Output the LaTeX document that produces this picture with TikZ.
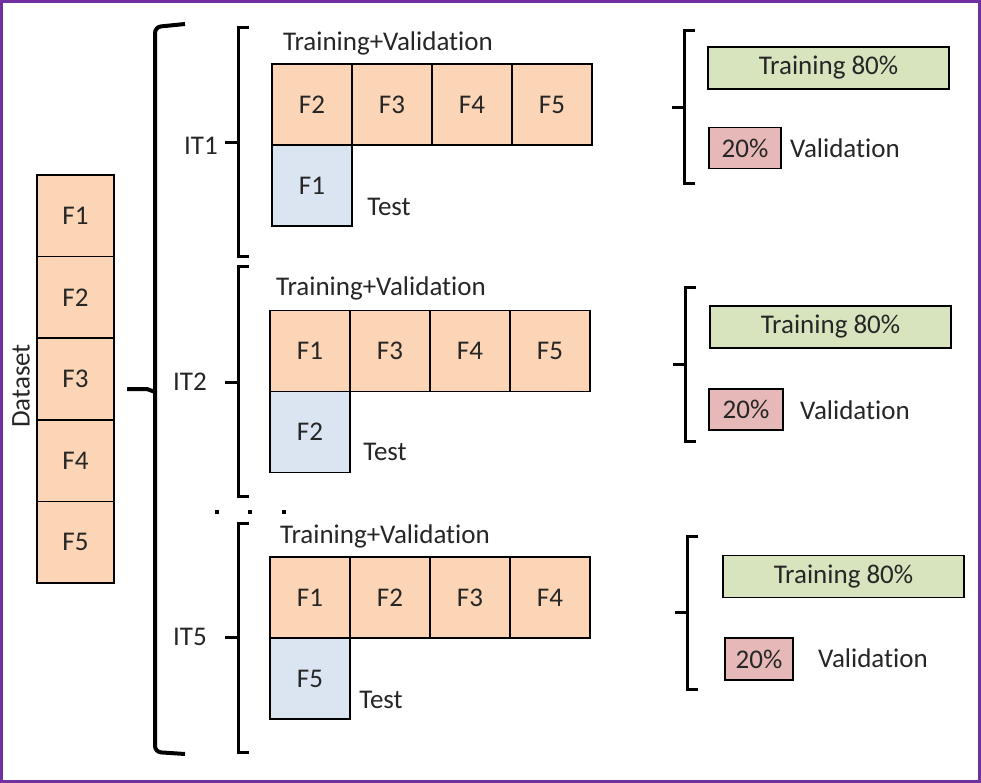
\documentclass[tikz,border=0pt]{standalone}
\usepackage{fontspec}
\setmainfont[Ligatures={NoCommon,NoRequired,NoContextual}, Contextuals=NoAlternate]{Carlito}
\usepackage{xcolor}
\usetikzlibrary{positioning}
\definecolor{foldorange}{RGB}{251,213,181}
\definecolor{foldblue}{RGB}{219,229,241}
\definecolor{trgreen}{RGB}{215,228,189}
\definecolor{valpink}{RGB}{230,185,184}
\definecolor{frame}{RGB}{112,48,160}

\begin{document}
\begin{tikzpicture}[x=1pt, y=-1pt]
	\tikzstyle{every node} = [text = black!85, font = \fontsize{27}{31}\selectfont]
	\tikzstyle{fold} = [draw = black, line width = 1.5pt, fill = foldorange, minimum width = 80pt, minimum height = 81pt, inner sep = 0pt, outer sep = 0pt]
	\tikzstyle{testfold} = [fold, fill = foldblue]
	\tikzstyle{trainbar} = [draw = black, line width = 1.5pt, fill = trgreen, minimum width = 241pt, minimum height = 42pt, inner sep = 0pt]
	\tikzstyle{valbox} = [draw = black, line width = 1.5pt, fill = valpink, minimum height = 41pt, inner sep = 0pt]
	\tikzstyle{brace} = [draw = black, line width = 3pt]
\useasboundingbox (0,0) rectangle (981,783);
\draw[color = frame, line width = 3pt] (1.5,1.5) rectangle (979.5,781.5);
% dataset
\node[fold, minimum width = 77pt, minimum height = 81.6pt] (d1) at (75.5, 215.8) {F1};
\node[fold, minimum width = 77pt, minimum height = 81.6pt] (d2) [below = 0pt of d1] {F2};
\node[fold, minimum width = 77pt, minimum height = 81.6pt] (d3) [below = 0pt of d2] {F3};
\node[fold, minimum width = 77pt, minimum height = 81.6pt] (d4) [below = 0pt of d3] {F4};
\node[fold, minimum width = 77pt, minimum height = 81.6pt] (d5) [below = 0pt of d4] {F5};
\node[rotate = 90] (dataset) at (21, 386) {Dataset};
% big brace
\path[brace, line width = 4pt, rounded corners = 6pt] (185, 24) -- (155, 27) -- (155, 752) -- (185, 754);
\path[brace, line width = 4pt] (127, 389) -- (147, 389) -- (155, 392);
% iterations
\foreach \top/\bot/\tip in {28/257/143, 267/496/382, 523/752/637}
	\path[brace] (249, \top) -- (238, \top) -- (238, \bot) -- (249, \bot) (225, \tip) -- (238, \tip);
\node (it1) at (201, 146) {IT1};
\node (it2) at (190, 382) {IT2};
\node (it5) at (190, 637) {IT5};
\foreach \x in {217, 250, 284}
	\fill[black] (\x-2, 510) rectangle (\x+2, 514);
% IT1
\node[fold] (a1) at (312, 104.5) {F2};
\node[fold] (a2) [right = 0pt of a1] {F3};
\node[fold] (a3) [right = 0pt of a2] {F4};
\node[fold] (a4) [right = 0pt of a3] {F5};
\node[testfold] (at) [below = 0pt of a1] {F1};
\node (atv) at (388, 43) {Training+Validation};
\node (atest) at (389, 207) {Test};
% IT2
\node[fold] (b1) at (310, 351) {F1};
\node[fold] (b2) [right = 0pt of b1] {F3};
\node[fold] (b3) [right = 0pt of b2] {F4};
\node[fold] (b4) [right = 0pt of b3] {F5};
\node[testfold] (bt) [below = 0pt of b1] {F2};
\node (btv) at (381, 288) {Training+Validation};
\node (btest) at (385, 452) {Test};
% IT5
\node[fold] (c1) at (310, 597.5) {F1};
\node[fold] (c2) [right = 0pt of c1] {F2};
\node[fold] (c3) [right = 0pt of c2] {F3};
\node[fold] (c4) [right = 0pt of c3] {F4};
\node[testfold] (ct) [below = 0pt of c1] {F5};
\node (ctv) at (385, 536) {Training+Validation};
\node (ctest) at (381, 700) {Test};
% splits
\foreach \x/\top/\bot/\tip in {684/31/184/108, 685/287/441/364, 687/536/689/612}
	\path[brace] (\x+11, \top) -- (\x, \top) -- (\x, \bot) -- (\x+11, \bot) (\x-12, \tip) -- (\x, \tip);
\node[trainbar] (atr) at (828.5, 68) {Training 80\%};
\node[valbox, minimum width = 72pt] (ava) at (745, 148) {20\%};
\node (aval) at (845, 148) {Validation};
\node[trainbar] (btr) at (830.5, 327) {Training 80\%};
\node[valbox, minimum width = 74pt] (bva) at (746, 409.5) {20\%};
\node (bval) at (855, 410) {Validation};
\node[trainbar] (ctr) at (843.5, 576.5) {Training 80\%};
\node[valbox, minimum width = 68pt, minimum height = 42pt] (cva) at (759, 659) {20\%};
\node (cval) at (873, 658) {Validation};
\end{tikzpicture}
\end{document}
